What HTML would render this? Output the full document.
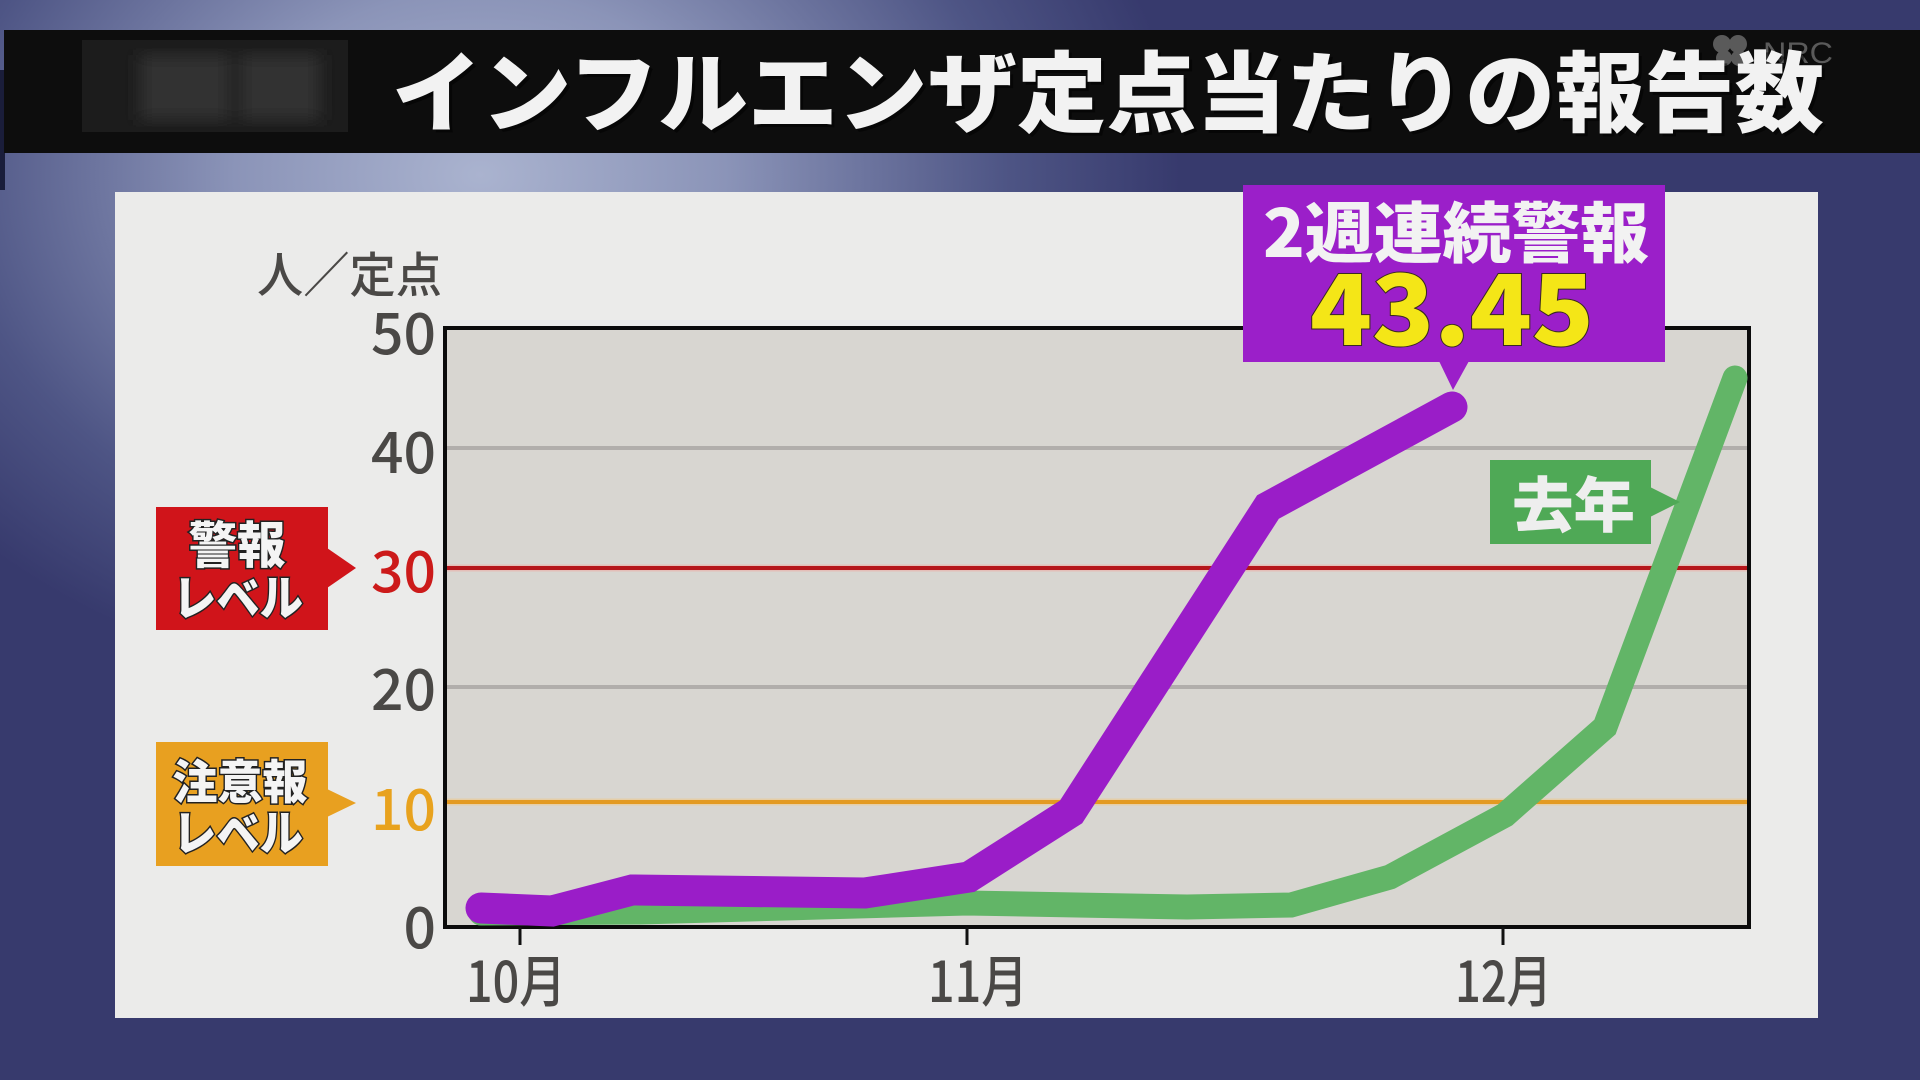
<!DOCTYPE html>
<html><head><meta charset="utf-8"><style>
html,body{margin:0;padding:0;width:1920px;height:1080px;overflow:hidden;background:#373a6d;}
svg{display:block;}
text{font-family:"Liberation Sans","Noto Sans CJK JP",sans-serif;}
.jp{font-family:"Noto Sans CJK JP","Liberation Sans",sans-serif;}
</style></head><body>
<svg width="1920" height="1080" viewBox="0 0 1920 1080" xmlns="http://www.w3.org/2000/svg">
<defs>
<radialGradient id="bg" cx="480" cy="175" r="700" gradientUnits="userSpaceOnUse" gradientTransform="translate(480 175) scale(1 0.75) translate(-480 -175)">
<stop offset="0" stop-color="#aab3cf"/>
<stop offset="0.35" stop-color="#8b94b8"/>
<stop offset="0.75" stop-color="#4e5585"/>
<stop offset="1" stop-color="#373a6d"/>
</radialGradient>
<filter id="blur"><feGaussianBlur stdDeviation="8"/></filter>
</defs>
<rect x="0" y="0" width="1920" height="1080" fill="#373a6d"/>
<rect x="0" y="0" width="1920" height="1080" fill="url(#bg)"/>
<rect x="0" y="70" width="5" height="120" fill="#1a1d3a"/>
<!-- header bar -->
<rect x="4" y="30" width="1916" height="123" fill="#0d0d0d"/>
<rect x="82" y="40" width="266" height="92" fill="#1c1c1c"/>
<g filter="url(#blur)"><rect x="140" y="55" width="90" height="65" fill="#333"/><rect x="240" y="55" width="80" height="65" fill="#303030"/></g>
<!-- NRC logo -->
<g opacity="0.55" fill="#9a9a9a">
<circle cx="1722" cy="44" r="9"/><circle cx="1738" cy="44" r="9"/><circle cx="1724" cy="58" r="8"/><circle cx="1739" cy="58" r="8"/>
<text x="1763" y="63" font-size="30" textLength="70" lengthAdjust="spacingAndGlyphs">NRC</text>
</g>
<text class="jp" x="392" y="125" font-size="88" font-weight="900" fill="#000" opacity="0.5" textLength="1432" lengthAdjust="spacingAndGlyphs" transform="translate(3 3)">インフルエンザ定点当たりの報告数</text>
<text class="jp" x="392" y="125" font-size="88" font-weight="900" fill="#f2f2f2" textLength="1432" lengthAdjust="spacingAndGlyphs">インフルエンザ定点当たりの報告数</text>
<!-- panel -->
<rect x="115" y="192" width="1703" height="826" fill="#ebebea"/>
<!-- unit -->
<text class="jp" x="257" y="292" font-size="48" font-weight="500" fill="#4a4846" textLength="185" lengthAdjust="spacingAndGlyphs">人／定点</text>
<!-- plot -->
<rect x="445" y="328" width="1304" height="599" fill="#d8d6d1"/>
<line x1="447" y1="448" x2="1747" y2="448" stroke="#b1aeab" stroke-width="4"/>
<line x1="447" y1="687" x2="1747" y2="687" stroke="#b1aeab" stroke-width="4"/>
<line x1="447" y1="568" x2="1747" y2="568" stroke="#f0a8a0" stroke-width="7" opacity="0.5"/>
<line x1="447" y1="568" x2="1747" y2="568" stroke="#b5161b" stroke-width="4"/>
<line x1="447" y1="802" x2="1747" y2="802" stroke="#f3c880" stroke-width="7" opacity="0.5"/>
<line x1="447" y1="802" x2="1747" y2="802" stroke="#e39a22" stroke-width="4"/>
<rect x="445" y="328" width="1304" height="599" fill="none" stroke="#0b0b0b" stroke-width="4"/>
<!-- ticks -->
<line x1="520" y1="927" x2="520" y2="945" stroke="#111" stroke-width="3"/>
<line x1="967" y1="927" x2="967" y2="945" stroke="#111" stroke-width="3"/>
<line x1="1503" y1="927" x2="1503" y2="945" stroke="#111" stroke-width="3"/>
<!-- y labels -->
<g class="jp" font-size="57" fill="#4a4846" text-anchor="end" font-weight="500">
<text x="436" y="354" class="jp">50</text>
<text x="436" y="473" class="jp">40</text>
<text x="436" y="592" class="jp" fill="#cc1a1a">30</text>
<text x="436" y="710" class="jp">20</text>
<text x="436" y="830" class="jp" fill="#e8a21e">10</text>
<text x="436" y="948" class="jp">0</text>
</g>
<!-- x labels -->
<g font-size="56" fill="#4a4846" font-weight="500">
<text class="jp" x="466" y="1002" textLength="100" lengthAdjust="spacingAndGlyphs">10月</text>
<text class="jp" x="928" y="1002" textLength="100" lengthAdjust="spacingAndGlyphs">11月</text>
<text class="jp" x="1455" y="1002" textLength="97" lengthAdjust="spacingAndGlyphs">12月</text>
</g>
<!-- series -->
<polyline points="481,913 640,912 967,903 1187,907 1291,905 1390,877 1505,815 1605,727 1735,378" fill="none" stroke="#62b567" stroke-width="25" stroke-linecap="round" stroke-linejoin="miter"/>
<polyline points="481,908 552,911 632,890 865,893 969,877 1071,812 1268,507 1452,407" fill="none" stroke="#9a1dc8" stroke-width="31" stroke-linecap="round" stroke-linejoin="miter"/>
<!-- red label -->
<rect x="156" y="507" width="172" height="123" fill="#d0141a"/>
<polygon points="327,548 327,588 356,568" fill="#d0141a"/>
<g class="jp" font-weight="900" fill="#f4f4f4" stroke="#222" stroke-width="3" paint-order="stroke" text-anchor="middle">
<text class="jp" x="237" y="563" font-size="50" textLength="97" lengthAdjust="spacingAndGlyphs">警報</text>
<text class="jp" x="238" y="615" font-size="48" textLength="130" lengthAdjust="spacingAndGlyphs">レベル</text>
</g>
<!-- orange label -->
<rect x="156" y="742" width="172" height="124" fill="#e8a020"/>
<polygon points="327,789 327,817 356,803" fill="#e8a020"/>
<g class="jp" font-weight="900" fill="#f4f4f4" stroke="#222" stroke-width="3" paint-order="stroke" text-anchor="middle">
<text class="jp" x="240" y="799" font-size="47" textLength="135" lengthAdjust="spacingAndGlyphs">注意報</text>
<text class="jp" x="238" y="850" font-size="48" textLength="130" lengthAdjust="spacingAndGlyphs">レベル</text>
</g>
<!-- purple callout -->
<rect x="1243" y="185" width="422" height="177" fill="#9b1fc9"/>
<polygon points="1439,361 1469,361 1453,390" fill="#9b1fc9"/>
<text class="jp" x="1263" y="257" font-size="66" font-weight="900" fill="#f2f2f2" textLength="386" lengthAdjust="spacingAndGlyphs">2週連続警報</text>
<text class="jp" x="1310" y="345" font-size="98" font-weight="900" fill="#f4e617" stroke="#3a2a20" stroke-width="2" paint-order="stroke" textLength="284" lengthAdjust="spacingAndGlyphs">43.45</text>
<!-- green label -->
<rect x="1490" y="460" width="161" height="84" fill="#4fa956"/>
<polygon points="1650,487 1650,517 1680,502" fill="#4fa956"/>
<text class="jp" x="1512" y="527" font-size="60" font-weight="900" fill="#eeeeee" textLength="123" lengthAdjust="spacingAndGlyphs">去年</text>
</svg>
</body></html>
